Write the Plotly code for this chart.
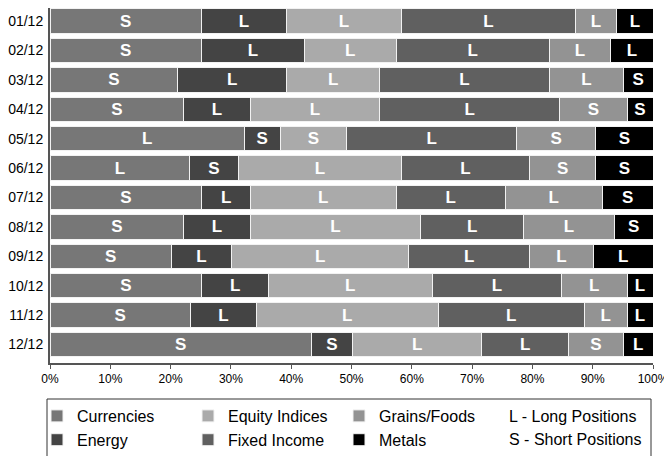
import plotly.graph_objects as go

rows = ["01/12", "02/12", "03/12", "04/12", "05/12", "06/12",
        "07/12", "08/12", "09/12", "10/12", "11/12", "12/12"]

currencies = [25.1, 25.1, 21.2, 22.2, 32.2, 23.2, 25.2, 22.2, 20.1, 25.2, 23.3, 43.3]
energy = [14.1, 17.1, 18.0, 11.0, 6.0, 8.0, 8.0, 11.0, 10.0, 11.0, 10.9, 6.9]
equity = [19.1, 15.2, 15.5, 21.5, 11.0, 27.1, 24.2, 28.3, 29.4, 27.2, 30.2, 21.4]
fixed_income = [28.8, 25.4, 28.1, 29.8, 28.2, 21.2, 18.1, 17.0, 20.0, 21.4, 24.2, 14.4]
grains = [6.9, 10.2, 12.3, 11.2, 13.1, 11.0, 16.1, 15.1, 10.6, 10.9, 7.1, 9.1]
metals = [6.0, 7.0, 4.9, 4.3, 9.5, 9.5, 8.4, 6.4, 9.9, 4.3, 4.3, 4.9]

currencies_pos = ["S", "S", "S", "S", "L", "L", "S", "S", "S", "S", "S", "S"]
energy_pos = ["L", "L", "L", "L", "S", "S", "L", "L", "L", "L", "L", "S"]
equity_pos = ["L", "L", "L", "L", "S", "L", "L", "L", "L", "L", "L", "L"]
fixed_income_pos = ["L"] * 12
grains_pos = ["L", "L", "L", "S", "S", "S", "L", "L", "L", "L", "L", "S"]
metals_pos = ["L", "L", "S", "S", "S", "S", "S", "S", "L", "L", "L", "L"]

x_ticks = [0, 10, 20, 30, 40, 50, 60, 70, 80, 90, 100]
x_ticktext = [f"{v}%" for v in x_ticks]

FONT = "Liberation Sans, Arial, Helvetica, sans-serif"

series = [
    ("Currencies", currencies, currencies_pos, "#777777", "legend"),
    ("Energy", energy, energy_pos, "#444444", "legend"),
    ("Equity Indices", equity, equity_pos, "#aaaaaa", "legend2"),
    ("Fixed Income", fixed_income, fixed_income_pos, "#606060", "legend2"),
    ("Grains/Foods", grains, grains_pos, "#939393", "legend3"),
    ("Metals", metals, metals_pos, "#000000", "legend3"),
]

fig = go.Figure()
for name, vals, labs, color, leg in series:
    fig.add_trace(go.Bar(
        name=name, y=rows, x=vals, orientation="h",
        marker=dict(color=color, line=dict(color="#f2f2f2", width=1)),
        text=labs, textposition="inside", insidetextanchor="middle",
        textangle=0, constraintext="none",
        textfont=dict(family=FONT, size=17, color="white", weight="bold"),
        hoverinfo="skip", legend=leg,
    ))

# the page body adds an 8px offset; the figure is sized to fill the rest
OFF = 8
W, H = 672 - OFF, 456 - OFF
ml, mr, mt, mb = 50 - OFF, 19, 0, 456 - 363
pw, ph = W - ml - mr, H - mt - mb

def px_x(p):  # screen x -> paper
    return (p - OFF - ml) / pw

def px_y(p):  # screen y -> paper
    return (H - mb - (p - OFF)) / ph

leg_common = dict(orientation="v", xanchor="left", yanchor="top",
                  font=dict(family=FONT, size=16, color="black"),
                  bgcolor="rgba(0,0,0,0)", borderwidth=0, tracegroupgap=0,
                  traceorder="normal")

fig.update_layout(
    width=W, height=H,
    margin=dict(l=ml, r=mr, t=mt, b=mb, autoexpand=False),
    barmode="stack", bargap=0.17,
    plot_bgcolor="white", paper_bgcolor="white",
    font=dict(family=FONT, color="black"),
    showlegend=True,
    legend=dict(x=px_x(37), y=px_y(399), **leg_common),
    legend2=dict(x=px_x(188), y=px_y(399), **leg_common),
    legend3=dict(x=px_x(339), y=px_y(399), **leg_common),
    xaxis=dict(range=[0, 100], tickvals=x_ticks, ticktext=x_ticktext,
               showgrid=False, zeroline=False, showline=True, automargin=False,
               linecolor="#555555", linewidth=2, ticks="outside",
               ticklen=4, tickcolor="#555555", tickwidth=1,
               tickfont=dict(family=FONT, size=12, color="black")),
    yaxis=dict(type="category", range=[11.63, -0.446], showgrid=False,
               zeroline=False, showline=True, linecolor="#555555",
               linewidth=2, ticks="", automargin=False, ticklabelstandoff=2,
               tickfont=dict(family=FONT, size=14, color="black")),
    shapes=[dict(type="rect", xref="paper", yref="paper",
                 x0=px_x(47), x1=px_x(651), y0=px_y(470), y1=px_y(399),
                 line=dict(color="#333333", width=1), fillcolor="rgba(0,0,0,0)")],
    annotations=[
        dict(text="L - Long Positions", x=px_x(507), y=px_y(416),
             xref="paper", yref="paper", xanchor="left", yanchor="middle",
             showarrow=False, font=dict(family=FONT, size=16, color="black")),
        dict(text="S - Short Positions", x=px_x(507), y=px_y(439),
             xref="paper", yref="paper", xanchor="left", yanchor="middle",
             showarrow=False, font=dict(family=FONT, size=16, color="black")),
    ],
)

fig.write_html("out.html")
